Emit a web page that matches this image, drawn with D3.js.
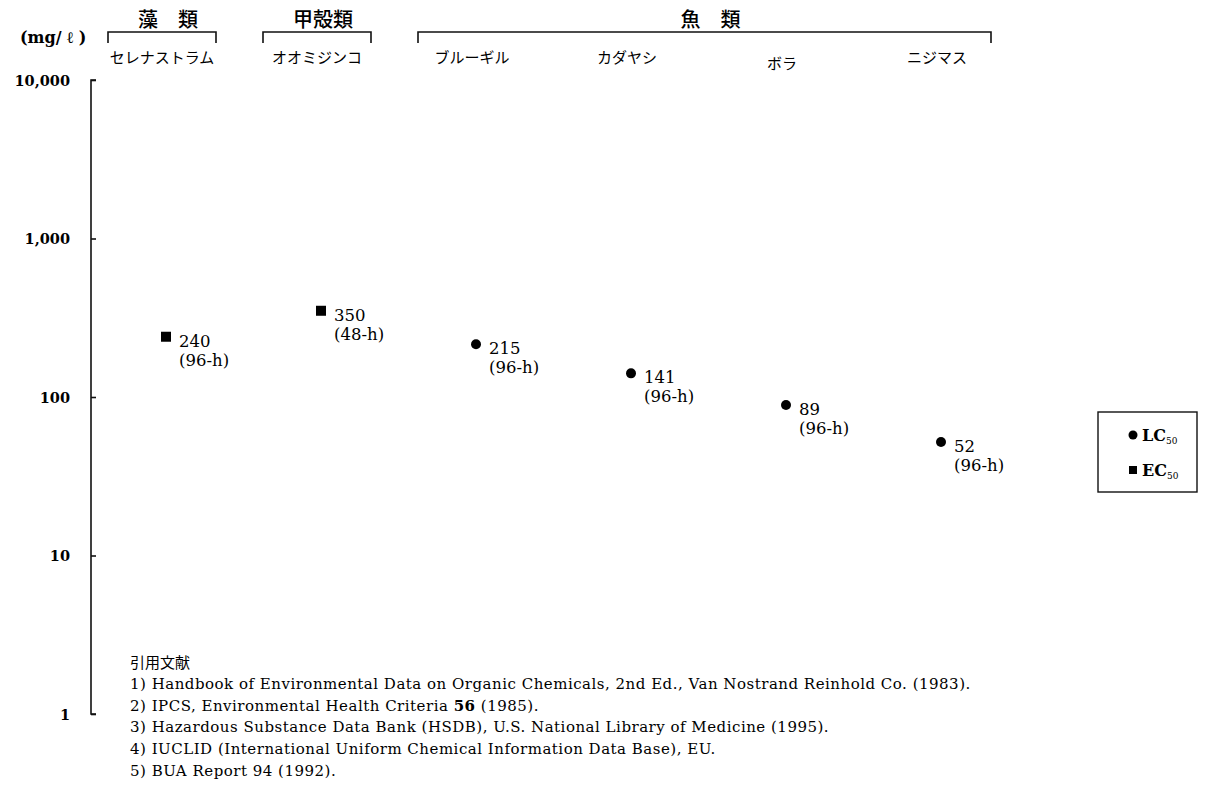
<!DOCTYPE html>
<html>
<head>
<meta charset="utf-8">
<script src="https://cdn.jsdelivr.net/npm/d3@7"></script>
<style>
  body { margin: 0; background: #fff; }
  svg { display: block; }
</style>
</head>
<body>
<div class="chart"></div>
<script>
// data
var species = ["セレナストラム", "オオミジンコ", "ブルーギル", "カダヤシ", "ボラ", "ニジマス"];
var values = [240, 350, 215, 141, 89, 52];
var durations = ["(96-h)", "(48-h)", "(96-h)", "(96-h)", "(96-h)", "(96-h)"];
var endpoints = ["EC50", "EC50", "LC50", "LC50", "LC50", "LC50"];
var groups = [
  {name: "藻　類", first: "セレナストラム", last: "セレナストラム"},
  {name: "甲殻類", first: "オオミジンコ", last: "オオミジンコ"},
  {name: "魚　類", first: "ブルーギル", last: "ニジマス"}
];
var yTicks = [1, 10, 100, 1000, 10000];
var references = [
  ["1) Handbook of Environmental Data on Organic Chemicals, 2nd Ed., Van Nostrand Reinhold Co. (1983)."],
  ["2) IPCS, Environmental Health Criteria ", "56", " (1985)."],
  ["3) Hazardous Substance Data Bank (HSDB), U.S. National Library of Medicine (1995)."],
  ["4) IUCLID (International Uniform Chemical Information Data Base), EU."],
  ["5) BUA Report 94 (1992)."]
];

var W = 1229, H = 787;
var axisX = 91;
var SERIF = "'DejaVu Serif', 'Liberation Serif', serif";
var JP = "'Noto Sans CJK JP', sans-serif";

var svg = d3.select(".chart").append("svg")
    .attr("width", W)
    .attr("height", H);

// scales
var xScale = d3.scalePoint().domain(species).range([166, 941]);
var yScale = d3.scaleLog().domain([1, 10000]).range([714, 80]);

// y axis
var yAxis = d3.axisRight(yScale)
    .tickValues(yTicks)
    .tickSize(5)
    .tickFormat(d3.format(","));

var gy = svg.append("g")
    .attr("transform", "translate(" + axisX + ",0)")
    .call(yAxis);
gy.select(".domain")
    .attr("stroke", "#111")
    .attr("stroke-width", 1.6)
    .attr("d", "M5," + yScale(10000) + "H0V" + yScale(1) + "H5");
gy.selectAll(".tick line").attr("stroke", "#111").attr("stroke-width", 1.6);
gy.selectAll(".tick text")
    .attr("font-family", SERIF)
    .attr("x", -21)
    .attr("dy", "0.35em")
    .attr("fill", "#000")
    .attr("font-size", 14.5)
    .attr("font-weight", "bold")
    .style("text-anchor", "end");

// unit label
svg.append("text")
    .attr("font-family", SERIF)
    .attr("x", 20)
    .attr("y", 43)
    .attr("font-size", 16)
    .attr("font-weight", "bold")
    .attr("xml:space", "preserve")
    .text("(mg/ ℓ )");

// group brackets
groups.forEach(function(g) {
  var x0 = xScale(g.first) - 58, x1 = xScale(g.last) + 50;
  svg.append("path")
      .attr("d", "M" + x0 + ",43V32H" + x1 + "V43")
      .attr("fill", "none")
      .attr("stroke", "#111")
      .attr("stroke-width", 1.6);
  svg.append("text")
      .attr("font-family", JP)
      .attr("x", (x0 + x1) / 2 + 6)
      .attr("y", 27)
      .attr("font-size", 20)
      .attr("font-weight", 500)
      .style("text-anchor", "middle")
      .text(g.name);
});

// species labels
svg.selectAll(".sp")
    .data(species)
    .enter().append("text")
    .attr("class", "sp")
    .attr("font-family", JP)
    .attr("x", function(d) { return xScale(d) - 4; })
    .attr("y", function(d) { return d === "ボラ" ? 69 : 63; })
    .attr("font-size", 15)
    .style("text-anchor", "middle")
    .text(function(d) { return d; });

// points
var pts = species.map(function(s, i) {
  return {s: s, v: values[i], dur: durations[i], ep: endpoints[i]};
});

svg.selectAll(".sq")
    .data(pts.filter(function(d) { return d.ep === "EC50"; }))
    .enter().append("rect")
    .attr("class", "sq")
    .attr("x", function(d) { return xScale(d.s) - 5; })
    .attr("y", function(d) { return yScale(d.v) - 5; })
    .attr("width", 10)
    .attr("height", 10)
    .attr("fill", "#000");

svg.selectAll(".dot")
    .data(pts.filter(function(d) { return d.ep === "LC50"; }))
    .enter().append("circle")
    .attr("class", "dot")
    .attr("cx", function(d) { return xScale(d.s); })
    .attr("cy", function(d) { return yScale(d.v); })
    .attr("r", 5)
    .attr("fill", "#000");

var lab = svg.selectAll(".lab")
    .data(pts)
    .enter().append("text")
    .attr("class", "lab")
    .attr("font-family", SERIF)
    .attr("font-size", 16.5)
    .attr("fill", "#000");
lab.append("tspan")
    .attr("x", function(d) { return xScale(d.s) + 13; })
    .attr("y", function(d) { return yScale(d.v) + 10; })
    .text(function(d) { return d.v; });
lab.append("tspan")
    .attr("x", function(d) { return xScale(d.s) + 13; })
    .attr("y", function(d) { return yScale(d.v) + 29; })
    .text(function(d) { return d.dur; });

// legend
var lg = svg.append("g").attr("transform", "translate(1098,412)");
lg.append("rect")
    .attr("width", 99)
    .attr("height", 80)
    .attr("fill", "none")
    .attr("stroke", "#111")
    .attr("stroke-width", 1.4);
lg.append("circle").attr("cx", 35).attr("cy", 23).attr("r", 4.5).attr("fill", "#000");
lg.append("rect").attr("x", 31).attr("y", 54).attr("width", 8).attr("height", 8).attr("fill", "#000");
[["LC", 29], ["EC", 64]].forEach(function(l) {
  var t = lg.append("text")
      .attr("font-family", SERIF)
      .attr("x", 44)
      .attr("y", l[1])
      .attr("font-size", 16)
      .attr("font-weight", "bold");
  t.append("tspan").text(l[0]);
  t.append("tspan").attr("font-size", 9).attr("font-weight", "normal").attr("dy", 3).text("50");
});

// references
svg.append("text")
    .attr("font-family", JP)
    .attr("x", 130)
    .attr("y", 668)
    .attr("font-size", 15)
    .text("引用文献");

references.forEach(function(r, i) {
  var t = svg.append("text")
      .attr("font-family", SERIF)
      .attr("x", 130)
      .attr("y", 689 + i * 21.7)
      .attr("font-size", 15)
      .attr("letter-spacing", 0.5)
      .attr("fill", "#000");
  r.forEach(function(part, j) {
    t.append("tspan")
        .attr("font-weight", (i === 1 && j === 1) ? "bold" : "normal")
        .text(part);
  });
});
</script>
</body>
</html>
